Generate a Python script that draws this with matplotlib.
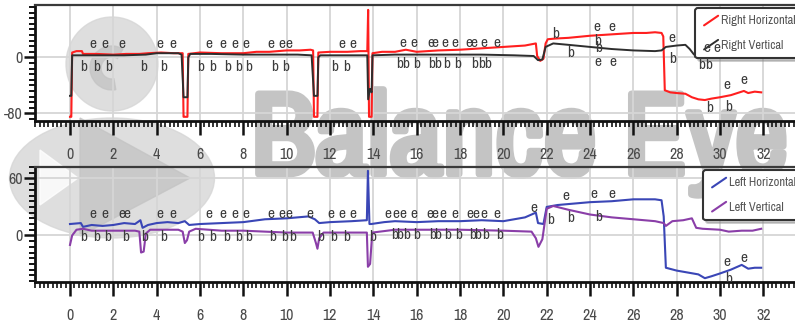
import matplotlib
matplotlib.use("Agg")
import matplotlib.pyplot as plt
import matplotlib.font_manager as fm
import matplotlib.patheffects as pe
from matplotlib.lines import Line2D
from matplotlib.legend_handler import HandlerLine2D
from matplotlib.ticker import MultipleLocator, FixedLocator
from matplotlib.patches import Ellipse, Polygon, Wedge
from matplotlib.transforms import Affine2D

# ---------------- data ----------------
rh_t = [0.0, 0.06, 0.1, 0.3, 0.55, 0.6, 1.2, 2.0, 2.6, 3.2, 3.6, 4.2, 4.8, 5.2, 5.24, 5.28, 5.42, 5.46, 6.0, 7.0,
        8.0, 8.6, 9.2, 10.0, 10.6, 11.1, 11.22, 11.26, 11.42, 11.46, 12.0, 12.8, 13.4, 13.72, 13.76, 13.8, 13.84,
        13.92, 13.96, 14.4, 15.0, 15.5, 16.0, 17.0, 18.0, 19.0, 20.0, 21.0, 21.5, 21.56, 21.7, 21.85, 21.95, 22.05,
        22.4, 23.0, 24.0, 25.0, 26.0, 26.6, 27.0, 27.3, 27.38, 27.45, 27.7, 28.0, 28.4, 28.7, 29.0, 29.3, 29.6,
        30.0, 30.5, 30.8, 31.1, 31.3, 31.6, 31.9]
rh_y = [-85, -85, 7, 9, 9, 5, 5, 4, 5, 5, 6, 7, 6, 6, -85, -85, -85, 5, 7, 6,
        6, 8, 8, 10, 10, 11, 10, -85, -85, 7, 8, 8, 9, 9, 68, -85, -85,
        -85, 6, 8, 8, 11, 8, 10, 11, 13, 15, 17, 20, 2, -5, -2, 20, 26,
        27, 28, 31, 33, 35, 35, 36, 35, 30, -47, -50, -51, -52, -57, -60, -61, -59,
        -57, -54, -51, -48, -51, -49, -50]

rv_t = [0.0, 0.06, 0.1, 0.5, 1.5, 2.5, 3.5, 4.0, 5.0, 5.15, 5.24, 5.42, 5.46, 5.55, 6.5, 8.0, 9.5, 10.5, 11.15,
        11.26, 11.42, 11.46, 11.55, 13.0, 13.72, 13.76, 13.84, 13.92, 13.96, 15.0, 17.0, 19.0, 20.5, 21.4, 21.6,
        21.8, 21.95, 22.3, 23.0, 24.0, 25.0, 26.0, 27.0, 27.3, 27.5, 28.0, 28.4, 28.6, 28.8, 29.2, 30.0, 31.0, 31.9]
rv_y = [-55, -55, 3, 3, 3, 3, 4, 6, 6, 4, -57, -57, 0, 5, 5, 4, 4, 4, 3,
        -55, -55, 0, 3, 3, 3, -60, -45, -50, 3, 4, 4, 4, 3, 2, -4,
        -3, 15, 20, 18, 15, 12, 10, 9, 10, 15, 17, 18, 12, 4, 3, 4, 5, 5]

lh_t = [0.0, 0.5, 0.6, 1.0, 1.5, 2.0, 2.5, 3.0, 3.25, 3.35, 3.6, 4.0, 4.5, 5.0, 5.3, 5.5, 6.0, 7.0, 8.0, 9.0,
        10.0, 11.0, 11.3, 11.5, 12.0, 13.0, 13.7, 13.75, 13.82, 13.9, 14.5, 15.0, 16.0, 17.0, 18.0, 19.0, 20.0,
        21.0, 21.5, 21.6, 21.85, 22.0, 22.5, 23.0, 24.0, 25.0, 26.0, 27.0, 27.3, 27.4, 27.5, 28.0, 28.5, 29.0,
        29.3, 29.6, 30.0, 30.5, 31.0, 31.3, 31.6, 31.9]
lh_y = [12, 13, 9, 11, 10, 11, 13, 12, 16, 8, 11, 13, 14, 13, 15, 11, 12, 13, 14, 17,
        18, 20, 17, 13, 14, 15, 16, 68, 12, 12, 14, 15, 14, 15, 15, 16, 15,
        19, 24, 13, 12, 30, 32, 33, 35, 36, 38, 38, 37, 20, -34, -37, -39, -41,
        -45, -43, -40, -36, -31, -35, -34, -34]

lv_t = [0.0, 0.1, 0.3, 0.6, 1.0, 2.0, 3.0, 3.2, 3.28, 3.4, 3.5, 3.7, 4.0, 5.0, 5.2, 5.3, 5.4, 5.5, 5.8, 7.0,
        8.0, 9.0, 10.0, 11.2, 11.35, 11.42, 11.5, 11.7, 13.7, 13.75, 13.85, 13.95, 15.0, 18.0, 20.0, 21.3, 21.5,
        21.62, 21.8, 22.0, 22.3, 23.0, 24.0, 25.0, 26.0, 27.0, 27.4, 27.5, 27.8, 28.3, 28.7, 28.9, 29.2, 30.0,
        30.4, 31.0, 31.5, 31.9]
lv_y = [-10, 0, 6, 7, 5, 5, 5, 4, -18, -17, 2, 6, 6, 6, 4, -8, -5, 4, 7, 5,
        5, 4, 3, 3, -8, -14, -3, 3, 3, -33, -30, 3, 6, 6, 5, 4, -3,
        -12, -4, 28, 31, 27, 22, 19, 17, 15, 13, 10, 15, 16, 18, 8, 7, 6,
        4, 5, 5, 7]

# event markers (e = end, b = begin)
te_x = [1.07, 1.61, 2.41, 4.15, 4.76, 6.42, 7.07, 7.6, 8.1, 9.26, 9.8, 10.1, 12.57, 13.06, 15.36, 15.85, 16.67,
        16.82, 17.28, 17.74, 18.43, 18.66, 19.12, 19.69, 24.3, 24.35, 25.0, 25.05, 27.8, 29.4, 29.85, 30.3, 31.1]
te_y = [19, 19, 19, 19, 19, 19, 19, 19, 19, 19, 19, 19, 19, 19, 20, 20, 20,
        20, 20, 20, 20, 20, 20, 20, 44, -7, 43, -7, 28, 14, 14, -40, -33]
tb_x = [0.61, 1.23, 1.77, 3.41, 4.33, 6.02, 6.6, 7.27, 7.8, 8.22, 9.42, 9.95, 12.21, 12.75, 15.2, 15.5, 16.0,
        16.7, 16.95, 17.4, 17.9, 18.66, 18.98, 19.26, 22.4, 23.1, 24.35, 24.4, 27.8, 29.15, 29.45, 29.5, 30.4]
tb_y = [-14, -14, -14, -14, -14, -14, -14, -14, -14, -14, -14, -14, -14, -14, -10, -10, -10,
        -10, -10, -10, -10, -10, -10, -10, 34, 7, 24, 13, -2, -11, -11, -73, -71]

be_x = [1.07, 1.61, 2.38, 2.61, 4.15, 4.76, 6.42, 7.07, 7.6, 8.1, 9.26, 9.8, 10.1, 11.06, 12.03, 12.57, 13.06,
        14.67, 15.05, 15.36, 15.85, 16.62, 16.82, 17.2, 17.74, 18.47, 18.74, 19.12, 19.69, 21.4, 22.9, 24.2,
        25.0, 30.3, 31.1]
be_y = [23, 23, 23, 23, 23, 23, 23, 23, 23, 23, 23, 23, 23, 23, 23, 23, 23,
        23, 23, 23, 23, 23, 23, 23, 23, 23, 23, 23, 23, 29, 42, 44,
        44, -28, -24]
bb_x = [0.61, 1.23, 1.74, 2.58, 3.46, 4.33, 6.02, 6.6, 7.22, 7.76, 8.22, 9.37, 9.91, 10.26, 11.55, 12.18, 12.75,
        13.98, 15.0, 15.21, 15.55, 16.0, 16.74, 16.97, 17.43, 17.94, 18.59, 18.82, 19.2, 19.82, 22.2, 23.1,
        24.4, 30.4]
bb_y = [-2, -2, -2, -2, -2, -2, -2, -2, -2, -2, -2, -2, -2, -2, -2, -2, -2,
        -2, 0, 0, 0, 0, 0, 0, 0, 0, 0, 0, 0, 0, 16, 18,
        19, -46]

x_ticks = [0, 2, 4, 6, 8, 10, 12, 14, 16, 18, 20, 22, 24, 26, 28, 30, 32]
top_yticks = [-80, 0]
bot_yticks = [0, 60]
top_labels = ["Right Horizontal", "Right Vertical"]
bot_labels = ["Left Horizontal", "Left Vertical"]
watermark = "Balance Eye"

# ---------------- fonts ----------------
narrow = None
for f in fm.fontManager.ttflist:
    if "Narrow" in f.name:
        narrow = f.name
        break
if narrow:
    FAM = [narrow, "DejaVu Sans"]
    plt.rcParams["font.family"] = FAM
else:
    FAM = ["DejaVu Sans"]
    plt.rcParams["font.family"] = FAM
    plt.rcParams["font.stretch"] = "condensed"

W, H = 795, 328
fig = plt.figure(figsize=(W / 100, H / 100), dpi=100)
fig.patch.set_facecolor("white")

# pixel (top-left origin) -> display transform
pix = Affine2D().scale(1 / 100, -1 / 100).translate(0, H / 100) + fig.dpi_scale_trans

# ---------------- watermark ----------------
wm_light = "#d6d6d6"
wm_mid = "#c4c4c4"
for art in [
    Ellipse((112, 64), 92, 94, transform=pix, color=wm_light, zorder=-2),
    Wedge((112, 68), 22, 80, 300, width=11, transform=pix, color=wm_mid, zorder=-2),
    Ellipse((112, 178), 205, 120, transform=pix, color=wm_light, zorder=-2),
    Polygon([(40, 150), (40, 205), (78, 178)], closed=True, transform=pix, color="white", zorder=-2),
    Polygon([(80, 118), (80, 236), (190, 178)], closed=True, transform=pix, color=wm_mid, zorder=-2),
]:
    art.set_alpha(0.8)
    fig.add_artist(art)
wm = fig.text(251 / W, 1 - 174 / H, watermark, fontsize=84, fontweight="bold", color="#c4c4c4",
              ha="left", va="baseline", zorder=-1, family=FAM)
wm.set_path_effects([pe.withStroke(linewidth=5, foreground="#c4c4c4")])


# ---------------- helpers ----------------
class DiagHandler(HandlerLine2D):
    def create_artists(self, legend, orig_handle, xdescent, ydescent, width, height, fontsize, trans):
        x0, y0 = -xdescent, -ydescent
        ln = Line2D([x0 + 0.1 * width, x0 + width], [y0 - 0.1 * height, y0 + 1.0 * height],
                    color=orig_handle.get_color(), lw=orig_handle.get_linewidth(),
                    solid_capstyle="round")
        ln.set_transform(trans)
        return [ln]


LEFT = 35 / W
AX_W = 765 / W
XLIM = (-1.615, 33.69)
TXT = "#3c3c3c"
TICKC = "#4a4a4a"


def style_axes(ax, yticks, yminor):
    ax.set_facecolor("none")
    ax.set_xlim(*XLIM)
    ax.xaxis.set_major_locator(FixedLocator(x_ticks))
    ax.xaxis.set_minor_locator(MultipleLocator(0.2))
    ax.set_xticklabels([str(v) for v in x_ticks])
    ax.yaxis.set_major_locator(FixedLocator(yticks))
    ax.yaxis.set_minor_locator(MultipleLocator(yminor))
    ax.set_yticklabels([str(v) for v in yticks])
    ax.grid(True, which="major", color="#d6d6d6", lw=1.3, zorder=0)
    ax.set_axisbelow(True)
    for s in ["left", "bottom"]:
        ax.spines[s].set_linewidth(2.0)
        ax.spines[s].set_color("#111111")
    ax.spines["top"].set_linewidth(1.6)
    ax.spines["top"].set_color("#3a3a3a")
    ax.spines["right"].set_visible(False)
    ax.tick_params(axis="x", which="major", direction="out", length=10, width=1.8, pad=9,
                   labelsize=11.5, labelcolor=TICKC, color="#111111")
    ax.tick_params(axis="x", which="minor", direction="out", length=4, width=1.2, color="#111111")
    ax.tick_params(axis="y", which="major", direction="out", length=8, width=1.8, pad=1,
                   labelsize=11.5, labelcolor=TICKC, color="#111111")
    ax.tick_params(axis="y", which="minor", direction="out", length=4.5, width=1.4, color="#111111")


def marks(ax, xs, ys, ch):
    for x, y in zip(xs, ys):
        ax.text(x, y, ch, ha="center", va="center", fontsize=11, color=TXT, zorder=6, clip_on=True)


def legend(ax, handles, labels, anchor):
    leg = ax.legend(handles, labels, loc="upper left", bbox_to_anchor=anchor,
                    handler_map={Line2D: DiagHandler()}, frameon=True, fancybox=True,
                    framealpha=1, edgecolor="#333333", facecolor="white",
                    handlelength=1.25, handletextpad=0.2, labelspacing=1.05, borderpad=0.6,
                    fontsize=9, shadow={"color": "0.55", "alpha": 0.45}, borderaxespad=0)
    leg.get_frame().set_linewidth(1.5)
    for t in leg.get_texts():
        t.set_color("#555555")
    leg.set_zorder(5)
    return leg


# ---------------- top panel ----------------
ax1 = fig.add_axes([LEFT, 1 - 121 / H, AX_W, 116 / H])
style_axes(ax1, top_yticks, 8)
ax1.set_ylim(-91, 75)
l1, = ax1.plot(rh_t, rh_y, color="#ff1f1f", lw=1.5, zorder=3)
l2, = ax1.plot(rv_t, rv_y, color="#2e2e2e", lw=1.4, zorder=3)
marks(ax1, te_x, te_y, "e")
marks(ax1, tb_x, tb_y, "b")
legend(ax1, [l1, l2], top_labels, ((695 - 35) / 765, 1 - 3 / 116))

# ---------------- bottom panel ----------------
ax2 = fig.add_axes([LEFT, 1 - 282 / H, AX_W, 115 / H])
style_axes(ax2, bot_yticks, 6)
ax2.set_ylim(-49, 72)
l3, = ax2.plot(lh_t, lh_y, color="#3a46b6", lw=1.5, zorder=3)
l4, = ax2.plot(lv_t, lv_y, color="#8a3ea8", lw=1.5, zorder=3)
marks(ax2, be_x, be_y, "e")
marks(ax2, bb_x, bb_y, "b")
legend(ax2, [l3, l4], bot_labels, ((703 - 35) / 765, 1 - 3 / 115))

fig.savefig("out.png", dpi=100, facecolor="white")
